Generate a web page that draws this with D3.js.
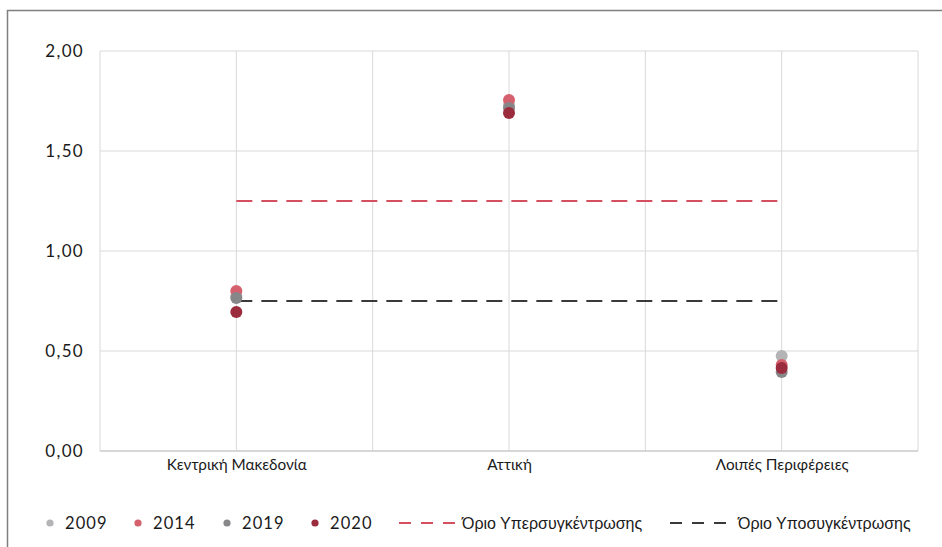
<!DOCTYPE html>
<html><head><meta charset="utf-8">
<script src="https://cdn.jsdelivr.net/npm/d3@7"></script>
<style>body{margin:0;background:#fff}svg{display:block}</style>
</head><body><svg id="c" width="942" height="547"></svg>
<script>
const categories = ["Κεντρική Μακεδονία", "Αττική", "Λοιπές Περιφέρειες"];
const years = ["2009", "2014", "2019", "2020"];
const values2009 = [0.775, 1.73, 0.475];
const values2014 = [0.80, 1.755, 0.43];
const values2019 = [0.765, 1.715, 0.395];
const values2020 = [0.695, 1.69, 0.415];
const yearColors = ["#b4b4b6", "#d4616d", "#87878a", "#9b2c3e"];
const upperLimit = 1.25, lowerLimit = 0.75;
const limitLabels = ["Όριο Υπερσυγκέντρωσης", "Όριο Υποσυγκέντρωσης"];
const limitColors = ["#d4505e", "#3a3a3a"];
const yTicks = [0, 0.5, 1, 1.5, 2];

(function () {
const series = [values2009, values2014, values2019, values2020];
const svg = d3.select("#c");
const font = "Lato, 'Noto Sans', sans-serif";

// frame
svg.append("path").attr("d","M7.5,547 V10.5 H942").attr("fill","none").attr("stroke","#7f7f7f").attr("stroke-width",1.5);

const pLeft = 100, pRight = 918, pTop = 51, pBottom = 451;
const x = d3.scalePoint().domain(categories).range([pLeft, pRight]).padding(0.5);
const y = d3.scaleLinear().domain([0, 2]).range([pBottom, pTop]);
const step = x.step();

// horizontal grid
svg.append("g").selectAll("line").data(yTicks).join("line")
  .attr("x1", pLeft).attr("x2", pRight)
  .attr("y1", d => y(d)).attr("y2", d => y(d))
  .attr("stroke", "#d9d9d9").attr("stroke-width", 1);
// vertical grid at category centers and boundaries
const vx = [];
categories.forEach((c) => { vx.push(x(c) - step/2); vx.push(x(c)); });
vx.push(x(categories[categories.length-1]) + step/2);
svg.append("g").selectAll("line").data(vx).join("line")
  .attr("x1", d => d).attr("x2", d => d)
  .attr("y1", pTop).attr("y2", pBottom)
  .attr("stroke", "#d9d9d9").attr("stroke-width", 1);
svg.append("line").attr("x1", pLeft).attr("x2", pRight).attr("y1", pBottom).attr("y2", pBottom)
  .attr("stroke", "#d0d0d0").attr("stroke-width", 1.5);

// y axis labels
const yAxis = d3.axisLeft(y).tickValues(yTicks).tickSize(0).tickPadding(16)
  .tickFormat(d => d3.format(".2f")(d).replace(".", ","));
const gy = svg.append("g").attr("transform", `translate(${pLeft},0)`).call(yAxis);
gy.select(".domain").remove();
gy.selectAll("text").attr("font-family", font).attr("font-size", 17).attr("letter-spacing", 1.3).attr("fill", "#1a1a1a");

// x axis labels
const xAxis = d3.axisBottom(x).tickSize(0).tickPadding(8);
const gx = svg.append("g").attr("transform", `translate(0,${pBottom})`).call(xAxis);
gx.select(".domain").remove();
gx.selectAll("text").attr("font-family", font).attr("font-size", 15.3).attr("fill", "#1a1a1a");

// limit lines
const x0 = x(categories[0]), x1 = x(categories[categories.length-1]);
[upperLimit, lowerLimit].forEach((v, i) => {
  svg.append("line").attr("x1", x0).attr("x2", x1).attr("y1", y(v)).attr("y2", y(v))
    .attr("stroke", limitColors[i]).attr("stroke-width", 2.2).attr("stroke-dasharray", "16,9");
});

// points
series.forEach((vals, si) => {
  svg.append("g").selectAll("circle").data(vals).join("circle")
    .attr("cx", (d, i) => x(categories[i])).attr("cy", d => y(d)).attr("r", 6)
    .attr("fill", yearColors[si]);
});

// legend
const ly = 523;
const yearLegendX = [50, 138, 227, 315];
years.forEach((yr, i) => {
  svg.append("circle").attr("cx", yearLegendX[i]).attr("cy", ly).attr("r", 3.6).attr("fill", yearColors[i]);
  svg.append("text").attr("x", yearLegendX[i] + 15).attr("y", ly).attr("dy", "0.36em")
    .attr("font-family", font).attr("font-size", 16.5).attr("letter-spacing", 1.1).attr("fill", "#1a1a1a").text(yr);
});
const limLegendX = [399, 670];
limitLabels.forEach((lab, i) => {
  svg.append("line").attr("x1", limLegendX[i]).attr("x2", limLegendX[i] + 57).attr("y1", ly).attr("y2", ly)
    .attr("stroke", limitColors[i]).attr("stroke-width", 2.2).attr("stroke-dasharray", "12,10");
  svg.append("text").attr("x", limLegendX[i] + (i === 0 ? 63 : 68)).attr("y", ly).attr("dy", "0.35em")
    .attr("font-family", "'Liberation Sans', Arial, sans-serif").attr("font-size", 16).attr("fill", "#1a1a1a").text(lab);
});
})();
</script></body></html>
